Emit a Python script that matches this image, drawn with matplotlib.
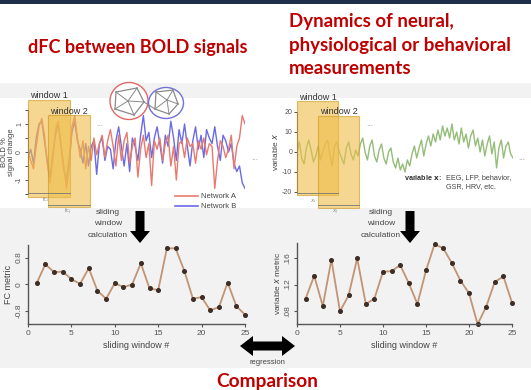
import numpy as np
import matplotlib
matplotlib.use("Agg")
import matplotlib.pyplot as plt
from matplotlib.patches import Rectangle, Polygon, Ellipse
from matplotlib.lines import Line2D

# ---------------- data ----------------
window_idx = list(range(1, 26))
fc_metric = [0.03, 0.60, 0.36, 0.38, 0.15, 0.01, 0.48, -0.20, -0.44, 0.03,
             -0.09, -0.01, 0.63, -0.13, -0.18, 1.08, 1.08, 0.41, -0.44, -0.39,
             -0.79, -0.69, 0.05, -0.66, -0.92]
varx_metric = [0.099, 0.133, 0.088, 0.157, 0.080, 0.104, 0.159, 0.091, 0.099, 0.139,
               0.140, 0.149, 0.122, 0.091, 0.141, 0.180, 0.174, 0.152, 0.126, 0.107,
               0.061, 0.087, 0.124, 0.132, 0.093]

bold_a = [0.0, -0.3, -0.6, 0.2, 0.9, 1.2, 0.6, -0.4, -1.1, -0.3, 0.8, 1.1, 0.3, -0.5, -1.3, -0.6,
          0.9, 1.3, 0.5, -0.2, 0.4, -0.6, 0.2, -0.3, 0.5, -0.1, 0.3, 0.6, -0.2, 0.4, 0.8, 0.2,
          -0.5, 0.6, -0.3, 0.4, 0.7, -0.4, 0.2, 0.5, -0.9, 0.1, 0.6, -0.2, 0.3, -1.2, 0.4, 0.1,
          0.5, -0.3, 0.3, 0.6, -0.5, 0.2, -1.0, 0.3, 0.4, -0.2, 0.5, 0.2, 0.3, -0.4, 0.4, 0.1,
          0.5, -0.1, 0.3, 0.2, -1.3, -0.3, 0.4, 0.2, -0.2, 0.1, 0.6, -0.6, 0.2, 0.5, 1.3, 1.0]
bold_b = [-0.2, 0.1, -0.4, 0.5, 1.0, 1.1, 0.4, -0.3, -0.9, -0.1, 0.6, 1.0, 0.2, -0.6, -1.0, -0.2,
          0.7, 1.1, 0.4, 0.1, -0.4, 0.3, -0.5, 0.2, 0.4, -0.8, 0.3, 0.5, -0.3, 0.2, 0.1, -0.6,
          0.4, 0.9, 0.2, -0.5, 0.3, -0.7, 0.5, 0.2, -0.3, 0.6, 1.3, 0.4, 0.7, -0.2, 0.5, 0.9,
          0.3, -0.4, 0.6, 0.2, 1.1, 0.5, -0.3, 0.8, 0.3, 1.0, 0.2, -0.5, 0.4, 0.9, 0.1, 0.6,
          -0.2, 0.8, 0.5, 0.3, 0.9, 0.2, -0.3, 0.6, 0.4, 0.0, 0.3, -0.4, -0.7, -0.5, -1.1, -1.3]
var_x = [0, 5, -3, -6, 2, 6, 1, -5, -2, 3, -4, 0, 4, 6, -1, -7, 3, 5, 0, -3, -6, 2, 5, -1, -4, 1, -2, 4, 7, 0,
         -4, 3, 6, -2, -5, 1, 4, -3, -6, 0, 2, -5, -8, -3, -9, -6, -10,
         -4, -7, -1, 3, -3, 2, 6, -2, 4, 8, 3, 9, 5, 11, 6, 13, 8, 12, 7,
         14, 6, 10, 4, 12, 5, 9, 2, 8, 11, 3, 7, 0, 6, -2, 4, 8, -1, 5, -8, 2, 6, -3, 3, 5, -1, -3]

# ---------------- helpers ----------------
W, H = 531, 390
fig = plt.figure(figsize=(W / 100, H / 100), dpi=100)
fig.patch.set_facecolor("white")


def ax_px(x0, y0, x1, y1):
    return [x0 / W, 1 - y1 / H, (x1 - x0) / W, (y1 - y0) / H]


def P(x, y):
    return (x / W, 1 - y / H)


def frect(x0, y0, x1, y1, **kw):
    r = Rectangle(P(x0, y1), (x1 - x0) / W, (y1 - y0) / H, transform=fig.transFigure, **kw)
    fig.add_artist(r)
    return r


def ftext(x, y, s, **kw):
    kw.setdefault("ha", "center")
    kw.setdefault("va", "center")
    fig.text(x / W, 1 - y / H, s, **kw)


def fline(xs, ys, **kw):
    fig.add_artist(Line2D([x / W for x in xs], [1 - y / H for y in ys], transform=fig.transFigure, **kw))


def fpoly(pts, **kw):
    fig.add_artist(Polygon([P(x, y) for x, y in pts], closed=True, transform=fig.transFigure, **kw))


RED = "#c00000"
SANS = ["Liberation Sans", "DejaVu Sans"]
TITLE = ["Lato", "DejaVu Sans"]

# ---------------- backgrounds ----------------
frect(0, 0, W, 4, facecolor="#1f2e4a", edgecolor="none", zorder=-10)
frect(0, 83, W, 368, facecolor="#f2f2f2", edgecolor="none", zorder=-10)
frect(0, 98, W, 208, facecolor="white", edgecolor="none", zorder=-9)

# ---------------- titles ----------------
ftext(138, 47, "dFC between BOLD signals", color=RED, fontsize=13, fontweight="bold", family=TITLE)
for yy, s in zip([22, 45, 69], ["Dynamics of neural,", "physiological or behavioral", "measurements"]):
    ftext(289, yy, s, color=RED, fontsize=13.5, fontweight="bold", family=TITLE, ha="left")
ftext(267, 381, "Comparison", color=RED, fontsize=13.8, fontweight="bold", family=TITLE)

# ---------------- top-left BOLD panel ----------------
ax1 = fig.add_axes(ax_px(28, 100, 245, 197))
ax1.set_facecolor("none")
xa = np.arange(len(bold_a))
xb = np.arange(len(bold_b))
ax1.plot(xb, bold_b, color="#6a6ae6", lw=1.0)
ax1.plot(xa, bold_a, color="#e77a6e", lw=1.0)
ax1.set_xlim(0, max(len(bold_a), len(bold_b)) - 1)
ax1.set_ylim(-1.607, 1.857)
for s in ["top", "right", "bottom"]:
    ax1.spines[s].set_visible(False)
ax1.spines["left"].set_bounds(-1.5, 1.5)
ax1.spines["left"].set_color("#555555")
ax1.spines["left"].set_linewidth(0.8)
ax1.set_xticks([])
ax1.set_yticks([-1.5, -1, -0.5, 0, 0.5, 1, 1.5])
ax1.set_yticklabels(["", "-1", "", "0", "", "1", ""], rotation=90, va="center",
                    fontsize=5, color="#555555", family=SANS)
ax1.tick_params(axis="y", length=2.5, width=0.7, color="#555555", pad=1)
ftext(8, 152, "BOLD %\nsignal change", rotation=90, fontsize=5.5, color="#444444", family=SANS,
      linespacing=1.0)

# windows
WCOL = "#efbd48"
WEDGE = "#c8961e"
frect(28, 100, 70, 197, facecolor=WCOL, alpha=0.6, edgecolor=WEDGE, lw=0.8, zorder=5)
frect(48, 115, 90, 207, facecolor=WCOL, alpha=0.6, edgecolor=WEDGE, lw=0.8, zorder=5)
ftext(49, 96, "window 1", fontsize=6.5, color="#333333", family=SANS, zorder=6)
ftext(69, 111, "window 2", fontsize=6.5, color="#333333", family=SANS, zorder=6)
fline([28, 70], [193, 193], color="#777777", lw=0.6, zorder=6)
fline([48, 90], [205, 205], color="#777777", lw=0.6, zorder=6)
ftext(46, 200, "fc$_i$", fontsize=4, color="#888888", family=SANS, zorder=6)
ftext(68, 212, "fc$_j$", fontsize=4, color="#888888", family=SANS, zorder=6)
ftext(100, 124, "...", fontsize=6, color="#999999", family=SANS)
ftext(255, 158, "...", fontsize=6, color="#999999", family=SANS)

# legend
fline([175, 198], [196, 196], color="#e77a6e", lw=1.2)
fline([175, 198], [206, 206], color="#6a6ae6", lw=1.2)
ftext(201, 196, "Network A", fontsize=5.5, color="#444444", family=SANS, ha="left")
ftext(201, 206, "Network B", fontsize=5.5, color="#444444", family=SANS, ha="left")

# network icons
fig.add_artist(Ellipse(P(129, 101), 38 / W, 37 / H, transform=fig.transFigure,
                       facecolor="white", edgecolor="#e06868", lw=1.0))
fig.add_artist(Ellipse(P(166, 103), 35 / W, 31 / H, transform=fig.transFigure,
                       facecolor="white", edgecolor="#7070d8", lw=1.0))
na = [(116, 92), (137, 88), (144, 102), (134, 115), (115, 109), (128, 101)]
nb = [(156, 92), (173, 90), (178, 104), (169, 114), (155, 109), (167, 100)]
for nodes in (na, nb):
    for i in range(5):
        fline([nodes[i][0], nodes[(i + 1) % 5][0]], [nodes[i][1], nodes[(i + 1) % 5][1]],
              color="#8a8a8a", lw=0.9)
        fline([nodes[i][0], nodes[5][0]], [nodes[i][1], nodes[5][1]], color="#8a8a8a", lw=0.7)
fline([144, 155], [102, 109], color="#8a8a8a", lw=0.8)

# ---------------- top-right variable x panel ----------------
ax2 = fig.add_axes(ax_px(297, 100, 513, 208))
ax2.set_facecolor("none")
xv = np.arange(len(var_x))
ax2.plot(xv, var_x, color="#93bd78", lw=1.0)
ax2.set_xlim(0, len(var_x) - 1)
ax2.set_ylim(-28, 26)
for s in ["top", "right", "bottom"]:
    ax2.spines[s].set_visible(False)
ax2.spines["left"].set_bounds(-20, 20)
ax2.spines["left"].set_color("#555555")
ax2.spines["left"].set_linewidth(0.8)
ax2.set_xticks([])
ax2.set_yticks([-20, -10, 0, 10, 20])
ax2.set_yticklabels(["-20", "-10", "0", "10", "20"], fontsize=5, color="#555555", family=SANS)
ax2.tick_params(axis="y", length=2.5, width=0.7, color="#555555", pad=1)
ftext(276, 152, "variable $\\it{x}$", rotation=90, fontsize=6, color="#444444", family=SANS)

frect(297, 101, 338, 195, facecolor=WCOL, alpha=0.6, edgecolor=WEDGE, lw=0.8, zorder=5)
frect(318, 116, 359, 208, facecolor=WCOL, alpha=0.6, edgecolor=WEDGE, lw=0.8, zorder=5)
ftext(318, 97, "window 1", fontsize=6.5, color="#333333", family=SANS, zorder=6)
ftext(339, 112, "window 2", fontsize=6.5, color="#333333", family=SANS, zorder=6)
fline([297, 338], [193, 193], color="#777777", lw=0.6, zorder=6)
fline([318, 359], [205, 205], color="#777777", lw=0.6, zorder=6)
ftext(313, 201, "$x_i$", fontsize=4, color="#888888", zorder=6)
ftext(335, 212, "$x_j$", fontsize=4, color="#888888", zorder=6)
ftext(370, 124, "...", fontsize=6, color="#999999", family=SANS)
ftext(522, 158, "...", fontsize=6, color="#999999", family=SANS)
ftext(404, 178, "variable $\\bf{x}$:", fontsize=5.2, color="#333333", family=SANS, ha="left",
      fontweight="bold")
ftext(446, 178, "EEG, LFP, behavior,", fontsize=5.2, color="#444444", family=SANS, ha="left")
ftext(446, 187, "GSR, HRV, etc.", fontsize=5.2, color="#444444", family=SANS, ha="left")

# ---------------- arrows and labels ----------------
def down_arrow(cx, y0, y1):
    sw, hw, hl = 4.5, 10, 12
    fpoly([(cx - sw, y0), (cx + sw, y0), (cx + sw, y1 - hl), (cx + hw, y1 - hl), (cx, y1),
           (cx - hw, y1 - hl), (cx - sw, y1 - hl)], facecolor="black", edgecolor="none")


down_arrow(140, 211, 243)
down_arrow(410, 211, 243)
for cx in (108, 381):
    ftext(cx, 213, "sliding", fontsize=6, color="#444444", family=SANS)
    ftext(cx, 224, "window", fontsize=6, color="#444444", family=SANS)
    ftext(cx, 236, "calculation", fontsize=6, color="#444444", family=SANS)

sw, hw, hl = 4.5, 10, 13
x0, x1, cy = 240, 295, 346
fpoly([(x0, cy), (x0 + hl, cy - hw), (x0 + hl, cy - sw), (x1 - hl, cy - sw), (x1 - hl, cy - hw),
       (x1, cy), (x1 - hl, cy + hw), (x1 - hl, cy + sw), (x0 + hl, cy + sw), (x0 + hl, cy + hw)],
      facecolor="black", edgecolor="none")
ftext(267, 362, "regression", fontsize=5.5, color="#444444", family=SANS)

# ---------------- bottom charts ----------------
LINE = "#c29474"
MK = "#3d2d24"


def style_bottom(ax):
    ax.set_facecolor("none")
    for s in ["top", "right"]:
        ax.spines[s].set_visible(False)
    for s in ["left", "bottom"]:
        ax.spines[s].set_color("#555555")
        ax.spines[s].set_linewidth(1.0)
    ax.set_xlim(0, 25)
    ax.set_xticks([0, 5, 10, 15, 20, 25])
    ax.set_xticklabels(["0", "5", "10", "15", "20", "25"], fontsize=6, color="#555555", family=SANS)
    ax.tick_params(length=2.5, width=0.8, color="#555555", pad=1.5)
    ax.set_xlabel("sliding window #", fontsize=6.5, color="#444444", family=SANS, labelpad=3)


ax3 = fig.add_axes(ax_px(28, 245, 245, 324))
style_bottom(ax3)
ax3.plot(window_idx, fc_metric, color=LINE, lw=1.3, marker="o", markersize=2.6,
         markerfacecolor=MK, markeredgecolor=MK, clip_on=False)
ax3.set_ylim(-1.2, 1.18)
ax3.set_yticks([-0.8, 0, 0.8])
ax3.set_yticklabels(["-0.8", "0", "0.8"], rotation=90, va="center", fontsize=6,
                    color="#555555", family=SANS)
ax3.set_ylabel("FC metric", fontsize=6.5, color="#444444", family=SANS, labelpad=2)

ax4 = fig.add_axes(ax_px(297, 243, 512, 324))
style_bottom(ax4)
ax4.plot(window_idx, varx_metric, color=LINE, lw=1.3, marker="o", markersize=2.6,
         markerfacecolor=MK, markeredgecolor=MK, clip_on=False)
ax4.set_ylim(0.0613, 0.1818)
ax4.set_yticks([0.08, 0.12, 0.16])
ax4.set_yticklabels([".08", ".12", ".16"], rotation=90, va="center", fontsize=6,
                    color="#555555", family=SANS)
ax4.set_ylabel("variable $\\it{x}$ metric", fontsize=6, color="#444444", family=SANS, labelpad=2)

fig.savefig("out.png", dpi=100)
